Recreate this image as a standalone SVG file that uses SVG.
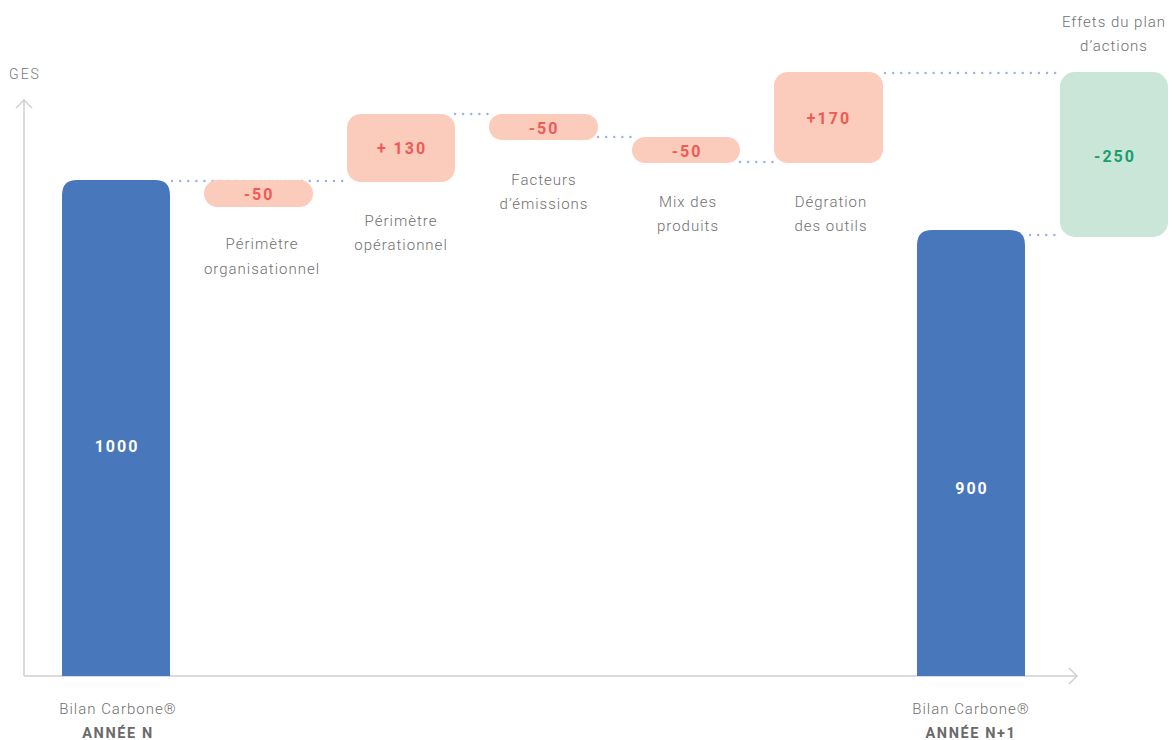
<svg xmlns="http://www.w3.org/2000/svg" width="1176" height="740" viewBox="0 0 1176 740">
<style>
.lbl{font-family:Roboto,"Liberation Sans",sans-serif;font-size:15px;font-weight:300;fill:#707070;letter-spacing:1px;text-anchor:middle}
.val{font-family:Roboto,"Liberation Sans",sans-serif;font-size:16px;font-weight:bold;letter-spacing:2px;text-anchor:middle}
.red{fill:#EE5A55}
.wht{fill:#ffffff}
.grn{fill:#1A9E6E}
.yr{font-family:Roboto,"Liberation Sans",sans-serif;font-size:14.5px;font-weight:bold;fill:#6a6a6a;letter-spacing:1.6px;text-anchor:middle}
.pink{fill:#FBCBBC}
.bar{fill:#4877BB}
.dot{stroke:#9FB1E2;stroke-width:2.4;stroke-dasharray:0.1 8;stroke-linecap:round;fill:none}
.axis{stroke:#d0d0d0;stroke-width:1.5;fill:none}
</style>
<g id="connectors">
<line class="dot" x1="172" y1="181" x2="347" y2="181"/>
<line class="dot" x1="455" y1="114" x2="489" y2="114"/>
<line class="dot" x1="598" y1="137" x2="632" y2="137"/>
<line class="dot" x1="740" y1="162" x2="774" y2="162"/>
<line class="dot" x1="885" y1="73" x2="1060" y2="73"/>
<line class="dot" x1="1030" y1="235" x2="1060" y2="235"/>
</g>
<g id="axes">
<path class="axis" d="M24 676 V100 M16 108 L24 100 L32 108"/>
<path class="axis" d="M24 676 H1077 M1069 668 L1077 676 L1069 684"/>
<text x="25" y="79" style="font-family:Roboto,'Liberation Sans',sans-serif;font-size:14px;font-weight:300;fill:#777;letter-spacing:2px;text-anchor:middle">GES</text>
</g>
<g id="bar-n">
<path class="bar" d="M62 676 V195 Q62 180 77 180 H155 Q170 180 170 195 V676 Z"/>
<text class="val wht" x="117" y="452">1000</text>
<text class="lbl" x="118" y="714">Bilan Carbone®</text>
<text class="yr" x="118" y="738">ANNÉE N</text>
</g>
<g id="perimetre-org">
<rect class="pink" x="204" y="180" width="109" height="27" rx="13.5"/>
<text class="val red" x="259" y="200">-50</text>
<text class="lbl" x="262" y="249">Périmètre</text>
<text class="lbl" x="262" y="274">organisationnel</text>
</g>
<g id="perimetre-op">
<rect class="pink" x="347" y="114" width="108" height="68" rx="14"/>
<text class="val red" x="402" y="154">+ 130</text>
<text class="lbl" x="401" y="226">Périmètre</text>
<text class="lbl" x="401" y="250">opérationnel</text>
</g>
<g id="facteurs">
<rect class="pink" x="489" y="114" width="109" height="26" rx="13"/>
<text class="val red" x="544" y="134">-50</text>
<text class="lbl" x="544" y="185">Facteurs</text>
<text class="lbl" x="544" y="209">d’émissions</text>
</g>
<g id="mix">
<rect class="pink" x="632" y="137" width="108" height="26" rx="13"/>
<text class="val red" x="687" y="157">-50</text>
<text class="lbl" x="688" y="207">Mix des</text>
<text class="lbl" x="688" y="231">produits</text>
</g>
<g id="degration">
<rect class="pink" x="774" y="72" width="109" height="91" rx="14"/>
<text class="val red" x="829" y="124">+170</text>
<text class="lbl" x="831" y="207">Dégration</text>
<text class="lbl" x="831" y="231">des outils</text>
</g>
<g id="bar-n1">
<path class="bar" d="M917 676 V245 Q917 230 932 230 H1010 Q1025 230 1025 245 V676 Z"/>
<text class="val wht" x="972" y="494">900</text>
<text class="lbl" x="971" y="714">Bilan Carbone®</text>
<text class="yr" x="971" y="738">ANNÉE N+1</text>
</g>
<g id="plan-actions">
<rect x="1060" y="72" width="108" height="165" rx="15" fill="#C9E6D8"/>
<text class="val grn" x="1115" y="162">-250</text>
<text class="lbl" x="1114" y="27">Effets du plan</text>
<text class="lbl" x="1114" y="51">d’actions</text>
</g>
</svg>
